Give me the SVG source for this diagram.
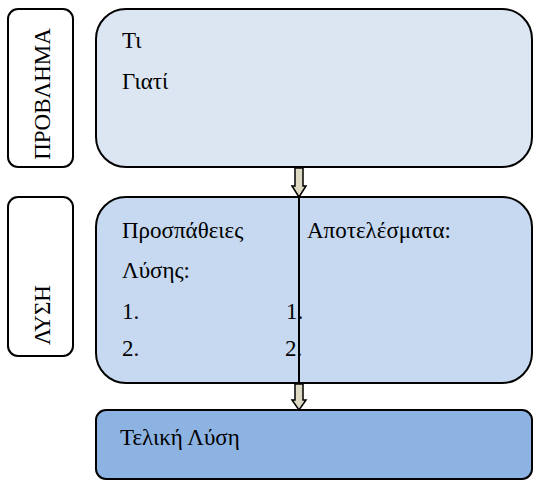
<svg xmlns="http://www.w3.org/2000/svg" width="533" height="481" viewBox="0 0 533 481">
  <style>
    .lbl { fill: #fff; stroke: #000; stroke-width: 2; }
    .box { stroke: #000; stroke-width: 2; }
    .t { font-family: "Liberation Serif", "Times New Roman", serif; font-size: 23px; fill: #000; }
    .arrow { fill: #ddd9c3; stroke: #000; stroke-width: 1.5; stroke-linejoin: miter; }
  </style>
  <rect width="533" height="481" fill="#fff"/>

  <!-- side labels -->
  <g id="label-problem">
    <rect class="lbl" x="8" y="9" width="65" height="158" rx="10"/>
    <text class="t" transform="translate(50 94) rotate(-90)" text-anchor="middle" font-size="22">ΠΡΟΒΛΗΜΑ</text>
  </g>
  <g id="label-solution">
    <rect class="lbl" x="8" y="197" width="65" height="159" rx="10"/>
    <text class="t" transform="translate(50 315) rotate(-90)" text-anchor="middle">ΛΥΣΗ</text>
  </g>

  <!-- problem box -->
  <g id="problem">
    <rect class="box" x="96" y="9" width="436" height="158" rx="30" fill="#dce6f2"/>
    <text class="t" x="122" y="48">Τι</text>
    <text class="t" x="122" y="89">Γιατί</text>
  </g>

  <!-- solution attempts box -->
  <g id="attempts">
    <rect class="box" x="96" y="197" width="436" height="186" rx="30" fill="#c6d9f1"/>
    <text class="t" x="122" y="238">Προσπάθειες</text>
    <text class="t" x="122" y="278">Λύσης:</text>
    <text class="t" x="122" y="319">1.</text>
    <text class="t" x="122" y="356">2.</text>
    <text class="t" x="307" y="238">Αποτελέσματα:</text>
    <text class="t" x="286" y="319">1.</text>
    <text class="t" x="285" y="356">2.</text>
  </g>

  <!-- final solution box -->
  <g id="final">
    <rect class="box" x="96" y="410" width="436" height="69" rx="10" fill="#8db3e2"/>
    <text class="t" x="120" y="445">Τελική Λύση</text>
  </g>

  <!-- connectors -->
  <g id="connectors">
    <line x1="299" y1="197" x2="299" y2="383" stroke="#000" stroke-width="2"/>
    <path class="arrow" d="M295 168 H303 V186 H306 L299 197 L292 186 H295 Z"/>
    <path class="arrow" d="M295 384 H303 V400 H306 L299 410 L292 400 H295 Z"/>
  </g>
</svg>
